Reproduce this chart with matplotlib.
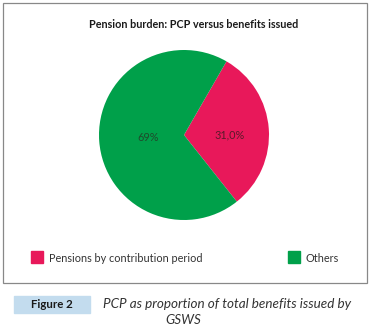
import matplotlib.pyplot as plt
from matplotlib.patches import Rectangle

labels = ["Pensions by contribution period", "Others"]
shares = [31.0, 69.0]
pct_text = ["31,0%", "69%"]
colors = ["#E8185A", "#00A04A"]

plt.rcParams['font.family'] = ['Lato', 'DejaVu Sans']

W, H = 369, 325
fig = plt.figure(figsize=(W / 100, H / 100), dpi=100)
fig.patch.set_facecolor("white")

def fx(px):
    return px / W

def fy(py):
    return 1 - py / H

# outer frame
fig.patches.append(Rectangle((fx(2.5), fy(283)), fx(364.5), fy(0) - fy(280.5),
                             transform=fig.transFigure, fill=False,
                             edgecolor="#888888", linewidth=0.9))

fig.text(fx(194), fy(24), "Pension burden: PCP versus benefits issued",
         ha="center", va="center", fontsize=7.75, fontweight="bold", color="#1a1a1a")

ax = fig.add_axes([fx(99), fy(220), fx(170), fy(0) - fy(170)])
wedges, _ = ax.pie(shares, colors=colors, startangle=60, counterclock=False,
                   wedgeprops=dict(linewidth=0))
ax.set_xlim(-1, 1)
ax.set_ylim(-1, 1)
ax.set_aspect("equal")
ax.text(0.54, 0.0, pct_text[0], ha="center", va="center", fontsize=7.8, color="#5a1a2a")
ax.text(-0.42, -0.03, pct_text[1], ha="center", va="center", fontsize=7.8, color="#1f4a2c")

# legend
fig.patches.append(Rectangle((fx(31), fy(263)), fx(12), fy(0) - fy(12),
                             transform=fig.transFigure, color=colors[0]))
fig.text(fx(49), fy(258), labels[0], ha="left", va="center", fontsize=7.8, color="#333333")
fig.patches.append(Rectangle((fx(288), fy(263)), fx(12), fy(0) - fy(12),
                             transform=fig.transFigure, color=colors[1]))
fig.text(fx(305), fy(258), labels[1], ha="left", va="center", fontsize=7.8, color="#333333")

# caption
fig.patches.append(Rectangle((fx(14), fy(313)), fx(76), fy(0) - fy(17),
                             transform=fig.transFigure, color="#C3DCEE"))
fig.text(fx(52), fy(304), "Figure 2", ha="center", va="center", fontsize=8.3,
         fontweight="bold", color="#1a1a1a")
fig.text(fx(103), fy(304), "PCP as proportion of total benefits issued by",
         ha="left", va="center", fontsize=9.7, style="italic", color="#333333")
fig.text(fx(183), fy(320), "GSWS", ha="center", va="center", fontsize=9.7,
         style="italic", color="#333333")

fig.savefig("out.png", dpi=100)
